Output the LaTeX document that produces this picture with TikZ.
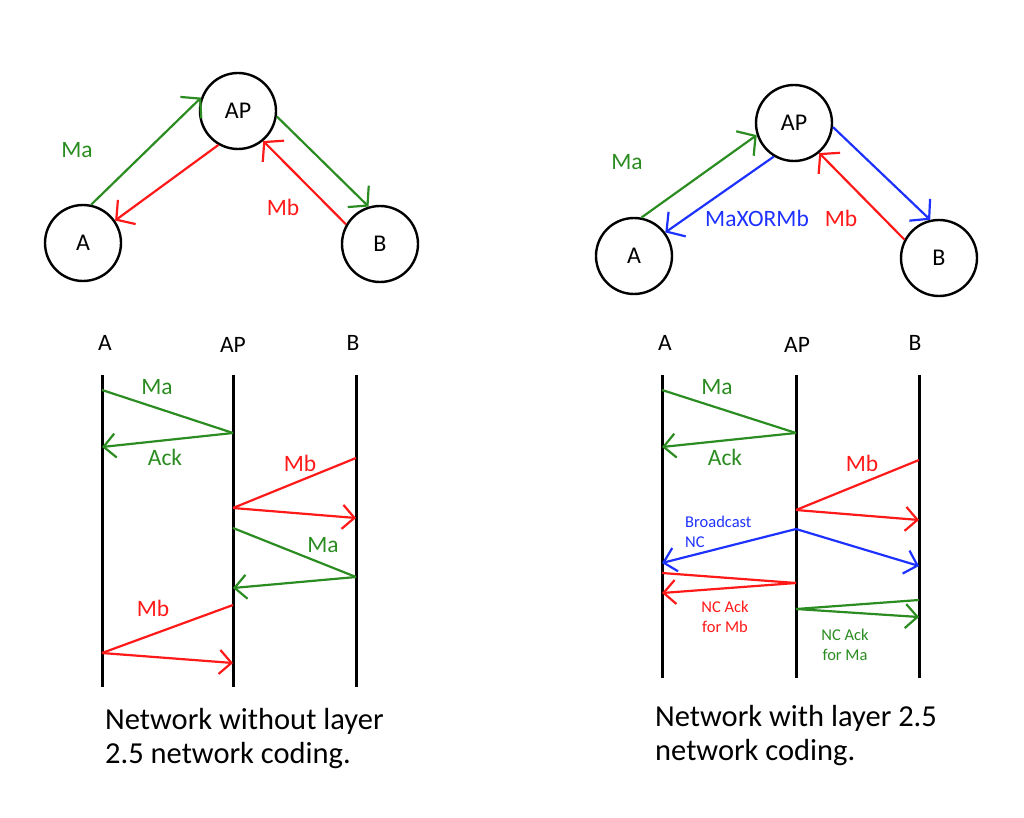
\documentclass[tikz,border=0pt]{standalone}
\usepackage{fontspec}
\setmainfont{Carlito}
\usetikzlibrary{arrows.meta}
\definecolor{ngreen}{RGB}{43,140,33}
\definecolor{nred}{RGB}{255,25,25}
\definecolor{nblue}{RGB}{30,50,255}
\tikzset{
    mynode/.style = {circle, line width=2.4pt, draw=black, minimum size=76pt, inner sep=0pt, font=\fontsize{24}{28}\selectfont, text=black},
    mylabel/.style = {inner sep=0pt, font=\fontsize{23.5}{27}\selectfont},
    mysmall/.style = {inner sep=0pt, align=center, font=\fontsize{16.5}{20.5}\selectfont},
    mycaption/.style = {inner sep=0pt, align=left, anchor=north west, font=\fontsize{30.5}{34}\selectfont},
    lifeline/.style = {line width=3pt, black},
    edgeg/.style = {-{Straight Barb[length=13pt,width=30pt]}, line width=2.2pt, ngreen},
    edger/.style = {-{Straight Barb[length=13pt,width=30pt]}, line width=2.2pt, nred},
    edgeb/.style = {-{Straight Barb[length=13pt,width=30pt]}, line width=2.2pt, nblue},
    msgg/.style = {-{Straight Barb[length=12pt,width=24pt]}, line width=2.2pt, ngreen}, % with head
    msgr/.style = {-{Straight Barb[length=12pt,width=24pt]}, line width=2.2pt, nred},
    msgb/.style = {-{Straight Barb[length=12pt,width=24pt]}, line width=2.2pt, nblue},
    msggn/.style = {-, line width=2.2pt, ngreen}, % no head
    msgrn/.style = {-, line width=2.2pt, nred}
}
\begin{document}
\begin{tikzpicture}[x=1pt,y=-1pt]
  \useasboundingbox (0,0) rectangle (1024,818);

  % without network coding
  \node[mynode] (apl) at (238,111) {AP};
  \node[mynode] (al) at (83,243) {A};
  \node[mynode] (bl) at (380,244) {B};
  \draw[edgeg] (al.78) -- (apl.160);
  \draw[edger] (apl.240) -- (al.35);
  \draw[edgeg] (apl.-8) -- (bl.107);
  \draw[edger] (bl.150) -- (apl.-50);
  \node[mylabel, text=ngreen] (mal) at (77,150) {Ma};
  \node[mylabel, text=nred] (mbl) at (283,207) {Mb};

  % with network coding
  \node[mynode] (apr) at (794,123) {AP};
  \node[mynode] (ar) at (634,256) {A};
  \node[mynode] (br) at (939,258) {B};
  \draw[edgeg] (ar.79) -- (apr.198);
  \draw[edgeb] (apr.239) -- (ar.37);
  \draw[edgeb] (apr.-6) -- (br.103);
  \draw[edger] (br.152) -- (apr.-50);
  \node[mylabel, text=ngreen] (mar) at (627,162) {Ma};
  \node[mylabel, text=nblue] (xor) at (757,218) {MaXORMb};
  \node[mylabel, text=nred] (mbr) at (841,218) {Mb};

  % lifelines
  \node[mylabel] (ha1) at (105,343) {A};
  \node[mylabel] (hp1) at (233,345) {AP};
  \node[mylabel] (hb1) at (353,343) {B};
  \node[mylabel] (ha2) at (665,343) {A};
  \node[mylabel] (hp2) at (797,345) {AP};
  \node[mylabel] (hb2) at (915,343) {B};
  \foreach \x in {102,233,356}
    \draw[lifeline] (\x,375) -- (\x,687);
  \foreach \x in {662,796,919}
    \draw[lifeline] (\x,375) -- (\x,678);

  % message end points
  \foreach \n/\x/\y in {l1/102/390, l2/233/433, l3/102/447, l4/356/458,
      l5/233/508, l6/356/518, l7/233/528, l8/356/577, l9/233/588,
      l10/233/605, l11/102/653, l12/233/663,
      r1/662/390, r2/796/433, r3/662/447, r4/919/460, r5/796/510,
      r6/919/520, r7/796/529, r8/662/563, r9/919/566, r10/662/573,
      r11/796/583, r12/662/593, r13/919/600, r14/796/609, r15/919/617}
    \coordinate (\n) at (\x,\y);

  % left messages
  \draw[msggn] (l1) -- (l2);
  \draw[msgg] (l2) -- (l3);
  \draw[msgrn] (l4) -- (l5);
  \draw[msgr] (l5) -- (l6);
  \draw[msggn] (l7) -- (l8);
  \draw[msgg] (l8) -- (l9);
  \draw[msgrn] (l10) -- (l11);
  \draw[msgr] (l11) -- (l12);
  \node[mylabel, text=ngreen] at (157,387) {Ma};
  \node[mylabel, text=ngreen] at (165,457) {Ack};
  \node[mylabel, text=nred] at (300,463) {Mb};
  \node[mylabel, text=ngreen] at (323,545) {Ma};
  \node[mylabel, text=nred] at (153,608) {Mb};

  % right messages
  \draw[msggn] (r1) -- (r2);
  \draw[msgg] (r2) -- (r3);
  \draw[msgrn] (r4) -- (r5);
  \draw[msgr] (r5) -- (r6);
  \draw[msgb] (r7) -- (r8);
  \draw[msgb] (r7) -- (r9);
  \draw[msgrn] (r10) -- (r11);
  \draw[msgr] (r11) -- (r12);
  \draw[msggn] (r13) -- (r14);
  \draw[msgg] (r14) -- (r15);
  \node[mylabel, text=ngreen] at (717,387) {Ma};
  \node[mylabel, text=ngreen] at (725,457) {Ack};
  \node[mylabel, text=nred] at (862,463) {Mb};
  \node[mysmall, align=left, anchor=west, text=nblue] at (685,532) {Broadcast\\NC};
  \node[mysmall, text=nred] at (725,617) {NC Ack\\for Mb};
  \node[mysmall, text=ngreen] at (845,645) {NC Ack\\for Ma};

  % captions
  \node[mycaption] (capl) at (105,708) {Network without layer\\2.5 network coding.};
  \node[mycaption] (capr) at (655,705) {Network with layer 2.5\\network coding.};
\end{tikzpicture}
\end{document}
